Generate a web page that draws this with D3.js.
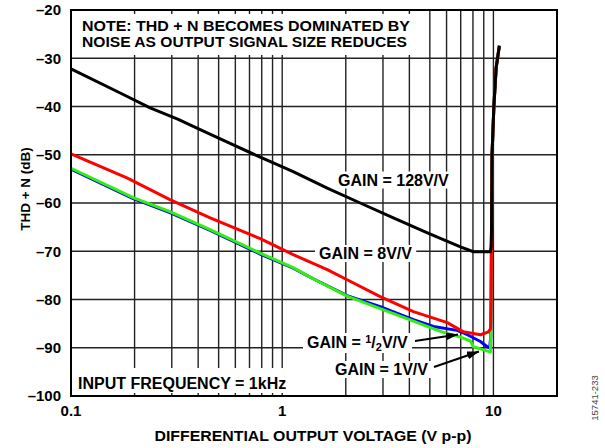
<!DOCTYPE html>
<html><head><meta charset="utf-8">
<script src="https://cdn.jsdelivr.net/npm/d3@7"></script>
<style>
body{margin:0;background:#fff;}
text{font-family:"Liberation Sans",Arial,Helvetica,sans-serif;font-weight:bold;fill:#000;}
</style></head>
<body><svg id="c" width="605" height="448"></svg>
<script>
// ---- data ----
const xTickLabels = [0.1, 1, 10];
const yTickLabels = [-20, -30, -40, -50, -60, -70, -80, -90, -100];
const xGrid = [0.2,0.3,0.4,0.5,0.6,0.7,0.8,0.9,1,2,3,4,5,6,7,8,9,10];
const riseV = [9.75, 9.8, 9.85, 10.05, 10.3, 10.67];
const riseDb = [-80, -65, -50, -40, -32, -27.4];

const gain128V = [0.1,0.171,0.237,0.32,0.409,0.55,0.787,1.127,1.634,2.34,3.36,4.87,6.98,8.04,9.68,9.75];
const gain128Db = [-32.2,-37.2,-40.3,-42.6,-44.8,-47.4,-50.5,-53.5,-56.9,-60,-63.1,-66.2,-69.1,-70.1,-70.1,-69];
const gain8V = [0.1,0.184,0.294,0.456,0.787,1.127,1.634,2.03,2.91,4.18,6.05,7.21,8.68,9.47,9.7];
const gain8Db = [-49.8,-54.8,-59.3,-63.1,-67.4,-70.7,-73.8,-75.9,-79.4,-82.5,-84.8,-86.7,-87.3,-86.7,-86];
const gain1V = [0.1,0.197,0.294,0.456,0.787,1.127,1.387,2.03,2.91,4.18,5.61,6.98,7.78,8.04,9.37,9.68,9.72];
const gain1Db = [-52.8,-58.9,-61.8,-65.5,-70.4,-73.4,-75.6,-79.3,-81.9,-84.5,-86.6,-87.8,-88.6,-89.8,-90.7,-90.9,-87];
const gainHalfV = [0.1,0.197,0.294,0.456,0.787,1.127,1.387,2.03,2.91,4.18,5.20,6.73,7.53,8.68,9.34,9.6,9.7];
const gainHalfDb = [-53.0,-59.1,-62.0,-65.7,-70.6,-73.5,-75.6,-79.2,-81.5,-84.2,-85.6,-86.4,-87.3,-88.7,-89.8,-90,-88];

const seriesList = [
  {name:"1/2", v:gainHalfV, db:gainHalfDb, color:"#0000ff"},
  {name:"1", v:gain1V, db:gain1Db, color:"#33ee11"},
  {name:"8", v:gain8V, db:gain8Db, color:"#ff0000"},
  {name:"128", v:gain128V, db:gain128Db, color:"#000000"}
];

// ---- chart ----
const svg = d3.select("#c");
const x = d3.scaleLog().domain([0.1, 20]).range([71, 557]);
const y = d3.scaleLinear().domain([-100, -20]).range([396, 10]);

const grid = svg.append("g").attr("stroke","#222").attr("stroke-width",1.4);
grid.selectAll("line.v").data(xGrid).join("line")
  .attr("x1",d=>x(d)).attr("x2",d=>x(d)).attr("y1",y(-20)).attr("y2",y(-100));
grid.selectAll("line.h").data(yTickLabels.slice(1,-1)).join("line")
  .attr("x1",x(0.1)).attr("x2",x(20)).attr("y1",d=>y(d)).attr("y2",d=>y(d));

// white boxes behind corner notes
svg.append("rect").attr("x",74).attr("y",14).attr("width",346).attr("height",41).attr("fill","#fff");
svg.append("rect").attr("x",74).attr("y",368).attr("width",210).attr("height",25).attr("fill","#fff");

// series lines
const line = d3.line().x(d=>x(d[0])).y(d=>y(d[1]));
seriesList.forEach(s=>{
  const pts = s.v.map((v,i)=>[v,s.db[i]]).concat(riseV.map((v,i)=>[v,riseDb[i]]).filter(p=>p[1] > s.db[s.db.length-1]));
  svg.append("path").attr("d",line(pts)).attr("fill","none")
    .attr("stroke",s.color).attr("stroke-width",3).attr("stroke-linejoin","round");
});

// frame
svg.append("rect").attr("x",x(0.1)).attr("y",y(-20)).attr("width",x(20)-x(0.1)).attr("height",y(-100)-y(-20))
  .attr("fill","none").attr("stroke","#000").attr("stroke-width",2);

// axes labels
svg.selectAll("text.yt").data(yTickLabels).join("text")
  .attr("x",61).attr("y",d=>y(d)).attr("dy","0.36em").attr("text-anchor","end")
  .attr("font-size",15).text(d=>"–"+Math.abs(d));
svg.selectAll("text.xt").data(xTickLabels).join("text")
  .attr("x",d=>x(d)).attr("y",415.5).attr("text-anchor","middle")
  .attr("font-size",15).text(d=>d);
svg.append("text").attr("x",313).attr("y",441).attr("text-anchor","middle").attr("font-size",15)
  .attr("textLength",317).attr("lengthAdjust","spacingAndGlyphs")
  .text("DIFFERENTIAL OUTPUT VOLTAGE (V p-p)");
svg.append("text").attr("transform","translate(30,189) rotate(-90)").attr("text-anchor","middle").attr("font-size",13.5)
  .text("THD + N (dB)");
svg.append("text").attr("transform","translate(598,398) rotate(-90)").attr("text-anchor","middle")
  .attr("font-size",9.5).style("font-weight","normal").style("fill","#444").text("15741-233");

// notes
svg.append("text").attr("x",82).attr("y",31.2).attr("font-size",14)
  .attr("textLength",328).attr("lengthAdjust","spacingAndGlyphs").text("NOTE: THD + N BECOMES DOMINATED BY");
svg.append("text").attr("x",82).attr("y",46.8).attr("font-size",14)
  .attr("textLength",325).attr("lengthAdjust","spacingAndGlyphs").text("NOISE AS OUTPUT SIGNAL SIZE REDUCES");
svg.append("text").attr("x",78).attr("y",388.5).attr("font-size",16).text("INPUT FREQUENCY = 1kHz");

function boxed(xp, yp, build){
  const g = svg.append("g");
  const r = g.append("rect").attr("fill","#fff");
  const t = g.append("text").attr("x",xp).attr("y",yp).attr("font-size",16);
  build(t);
  const b = t.node().getBBox();
  r.attr("x",b.x-4).attr("y",b.y).attr("width",b.width+8).attr("height",b.height);
  return g;
}
boxed(338,185.5,t=>t.text("GAIN = 128V/V"));
boxed(319,259,t=>t.text("GAIN = 8V/V"));
boxed(307,348,t=>{
  t.append("tspan").text("GAIN = ");
  t.append("tspan").attr("font-size",11).attr("dy",-5).text("1");
  t.append("tspan").attr("dy",5).text("/");
  t.append("tspan").attr("font-size",11).attr("dy",3).text("2");
  t.append("tspan").attr("dy",-3).text("V/V");
});
boxed(335,375,t=>t.text("GAIN = 1V/V"));

// arrows
svg.append("defs").append("marker").attr("id","ah").attr("viewBox","0 0 12 8").attr("refX",12).attr("refY",4)
  .attr("markerWidth",12).attr("markerHeight",8).attr("markerUnits","userSpaceOnUse").attr("orient","auto")
  .append("path").attr("d","M0,0 L12,4 L0,8 Z").attr("fill","#000");
svg.append("line").attr("x1",415).attr("y1",341).attr("x2",458).attr("y2",334.5)
  .attr("stroke","#000").attr("stroke-width",2).attr("marker-end","url(#ah)");
svg.append("line").attr("x1",434).attr("y1",367).attr("x2",479).attr("y2",351.5)
  .attr("stroke","#000").attr("stroke-width",2).attr("marker-end","url(#ah)");
</script></body></html>
